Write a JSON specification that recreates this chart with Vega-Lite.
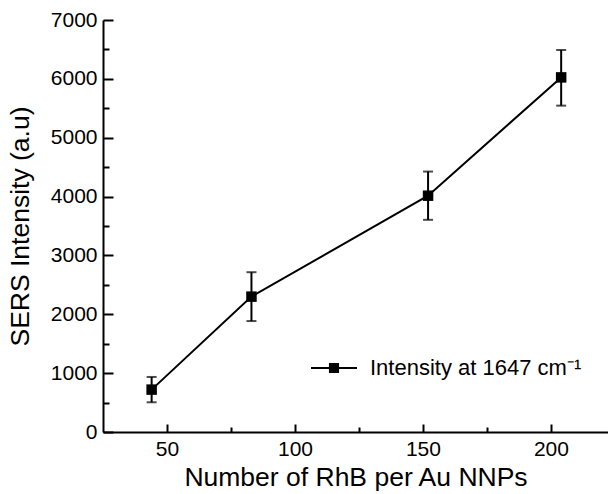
{
  "$schema": "https://vega.github.io/schema/vega-lite/v6.json",
  "autosize": {"type": "none"},
  "width": 505,
  "height": 412,
  "padding": {"left": 103, "top": 20, "right": 0, "bottom": 62},
  "background": "white",
  "config": {
    "view": {"stroke": null},
    "font": "Liberation Sans",
    "axis": {
      "domainColor": "black",
      "domainWidth": 2,
      "tickColor": "black",
      "tickWidth": 2,
      "grid": false,
      "labelColor": "black",
      "titleColor": "black",
      "labelFont": "Liberation Sans",
      "titleFont": "Liberation Sans",
      "labelFontSize": 21,
      "titleFontSize": 26.5,
      "titleFontWeight": "normal"
    }
  },
  "data": {
    "values": [
      {"n": 44, "i": 720, "lo": 505, "hi": 935, "s": "Intensity at 1647 cm⁻¹"},
      {"n": 83, "i": 2300, "lo": 1885, "hi": 2715, "s": "Intensity at 1647 cm⁻¹"},
      {"n": 152, "i": 4015, "lo": 3605, "hi": 4425, "s": "Intensity at 1647 cm⁻¹"},
      {"n": 204, "i": 6025, "lo": 5545, "hi": 6490, "s": "Intensity at 1647 cm⁻¹"}
    ]
  },
  "encoding": {
    "x": {
      "field": "n",
      "type": "quantitative",
      "scale": {"domain": [25, 222.3], "nice": false, "zero": false},
      "axis": {
        "title": "Number of RhB per Au NNPs",
        "values": [50, 75, 100, 125, 150, 175, 200],
        "labelExpr": "datum.value % 50 === 0 ? datum.label : ''",
        "tickSize": {"condition": {"test": "datum.value % 50 === 0", "value": -8}, "value": -5},
        "labelPadding": 14,
        "titlePadding": 5,
        "labelFlush": false
      }
    },
    "y": {
      "field": "i",
      "type": "quantitative",
      "scale": {"domain": [0, 7000], "nice": false},
      "axis": {
        "title": "SERS Intensity (a.u)",
        "values": [0, 500, 1000, 1500, 2000, 2500, 3000, 3500, 4000, 4500, 5000, 5500, 6000, 6500, 7000],
        "labelExpr": "datum.value % 1000 === 0 ? datum.label : ''",
        "format": "d",
        "tickSize": {"condition": {"test": "datum.value % 1000 === 0", "value": -10}, "value": -6},
        "labelPadding": 16,
        "titlePadding": 16,
        "labelFlush": false
      }
    }
  },
  "layer": [
    {
      "mark": {"type": "line", "color": "black", "strokeWidth": 2}
    },
    {
      "mark": {
        "type": "errorbar",
        "color": "black",
        "ticks": {"size": 10, "thickness": 2, "color": "black"},
        "rule": {"strokeWidth": 2, "color": "black"}
      },
      "encoding": {
        "y": {"field": "lo", "type": "quantitative"},
        "y2": {"field": "hi"}
      }
    },
    {
      "mark": {"type": "point", "shape": "square", "filled": true, "size": 110, "opacity": 1},
      "encoding": {
        "color": {
          "field": "s",
          "type": "nominal",
          "scale": {"range": ["black"]},
          "legend": {
            "title": null,
            "orient": "none",
            "legendX": 208,
            "legendY": 325,
            "padding": 0,
            "symbolType": "M-1,-0.045H1V0.045H-1Z M-0.22,-0.22H0.22V0.22H-0.22Z",
            "symbolSize": 2116,
            "symbolStrokeWidth": 0,
            "symbolOpacity": 1,
            "labelFont": "Liberation Sans",
            "labelFontSize": 22,
            "labelColor": "black",
            "labelOffset": 13,
            "labelLimit": 400
          }
        }
      }
    }
  ]
}
